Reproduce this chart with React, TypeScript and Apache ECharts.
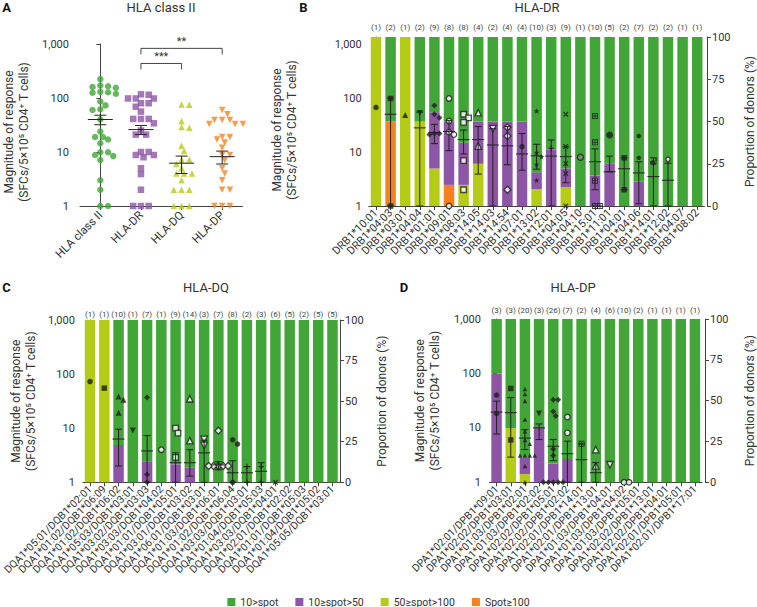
import React, { useEffect, useRef } from 'react';
import * as echarts from 'echarts';

const GREEN = '#41a637';
const PURPLE = '#8d55a6';
const LIME = '#b5cc16';
const ORANGE = '#f5821f';
const INK = '#333333';
const MARK = '#1e1e1e';
const FONT = 'Roboto, "Liberation Sans", sans-serif';

// ---------------- Panel A : HLA class II ----------------
const aCategories = ['HLA class II', 'HLA-DR', 'HLA-DQ', 'HLA-DP'];
const aClassII = [224, 170, 165, 160, 155, 130, 128, 125, 120, 86, 73, 62, 60, 40, 24, 19, 19, 17, 14.5, 9.9, 9.9, 8.8, 8.4, 7.1, 3, 2, 1, 1];
const aDR = [117, 115, 98, 98, 98, 80, 80, 69, 56, 41, 41, 41, 34, 25, 21, 21, 10, 10, 8.8, 8.8, 8, 5, 3.9, 2, 1, 1, 1];
const aDQ = [76, 75, 37, 29, 28, 13, 10.4, 7.3, 7.3, 6, 5, 4, 4, 4, 3, 2, 2, 2, 1, 1, 1];
const aDP = [60, 50, 39, 39, 39, 33, 33, 33, 19, 19, 17, 15, 12, 8.8, 8.8, 7, 5, 4, 3, 2, 2, 1, 1, 1];
const aMean = [40, 26, 6.2, 8.2];
const aSem = [8, 5, 2.2, 2.2];
const aSigFrom = [1, 1];
const aSigTo = [3, 2];
const aSigLevel = [830, 436];
const aSigLabel = ['**', '***'];

// ---------------- Panel B : HLA-DR ----------------
const drCats = ['DRB1*10:01', 'DRB1*04:03', 'DRB1*03:01', 'DRB1*04:04', 'DRB1*01:01', 'DRB1*09:01', 'DRB1*08:03', 'DRB1*14:05', 'DRB1*14:03', 'DRB1*14:54', 'DRB1*07:01', 'DRB1*13:02', 'DRB1*12:01', 'DRB1*04:05', 'DRB1*04:10', 'DRB1*15:01', 'DRB1*11:01', 'DRB1*04:01', 'DRB1*04:06', 'DRB1*14:01', 'DRB1*12:02', 'DRB1*04:07', 'DRB1*08:02'];
const drN = [1, 2, 1, 2, 9, 8, 8, 4, 2, 4, 4, 10, 3, 9, 1, 10, 5, 2, 7, 2, 2, 1, 1];
const drOrange = [0, 50, 0, 0, 0, 12.5, 0, 0, 0, 0, 0, 0, 0, 0, 0, 0, 0, 0, 0, 0, 0, 0, 0];
const drLime = [100, 0, 100, 50, 22.2, 0, 12.5, 25, 0, 0, 0, 10, 0, 11.1, 0, 0, 0, 0, 0, 0, 0, 0, 0];
const drPurple = [0, 0, 0, 0, 33.3, 37.5, 25, 25, 50, 50, 50, 10, 33.3, 11.1, 0, 18, 25, 0, 14.3, 0, 0, 0, 0];
const drGreen = [0, 50, 0, 50, 44.5, 50, 62.5, 50, 50, 50, 50, 80, 66.7, 77.8, 100, 82, 75, 100, 85.7, 100, 100, 100, 100];
const drPoints = [
  [67], [98, 1], [48.5], [53], [73, 50, 43, 22, 22, 21], [98, 37.5, 23.3, 21, 1], [50, 43, 35.5, 6.9, 2],
  [53.5, 12.9], [27], [28.6, 19.8, 2], [12.6], [57.5, 9.8, 8.2, 5.9, 3], [11.7], [50, 12.7, 6.1, 4, 1],
  [8], [46.5, 15.1, 2.95, 1, 1], [20.6], [7.8, 2], [19.8, 7.8], [6.6], [6.2], [], [],
];
const drMarks = ['dot', 'square', 'tri', 'invtri', 'diamond', 'ring', 'openSquare', 'openTri', 'openInvTri', 'openDiamond', 'dot', 'star', 'plus', 'cross', 'circleMinus', 'squarePlus', 'bigDot', 'square', 'smallDot', 'dShape', 'pin', 'dot', 'dot'];
const drMean = [null, 50, null, 28, 23, 24, 17, 17, 13.5, 13, 9.2, 8.5, 8.4, 8.2, null, 6.6, 4.3, 4.9, 4.1, 3.5, 3.0, null, null];
const drLo = [null, 1, null, 1, 14.3, 10.6, 9.2, 3.9, 1, 5.8, 4.6, 4.8, 1, 2.7, null, 2, 4.3, 2, 1.1, 1, 1, null, null];
const drHi = [null, 100, null, 55, 32.5, 38, 25.5, 29.5, 27, 29.5, 22, 13.9, 16.7, 12.5, null, 11.4, 8.4, 7.8, 6.6, 7.8, 6.2, null, null];

// ---------------- Panel C : HLA-DQ ----------------
const dqCats = ['DQA1*05:01/DQB1*02:01', 'DQA1*01:02/DQB1*06:09', 'DQA1*01:02/DQB1*06:02', 'DQA1*05:03/DQB1*03:01', 'DQA1*03:02/DQB1*03:03', 'DQA1*03:03/DQB1*04:02', 'DQA1*01:01/DQB1*05:01', 'DQA1*03:01/DQB1*03:02', 'DQA1*06:01/DQB1*03:01', 'DQA1*01:03/DQB1*06:01', 'DQA1*01:02/DQB1*06:04', 'DQA1*03:03/DQB1*03:01', 'DQA1*01:04/DQB1*05:03', 'DQA1*03:03/DQB1*04:01', 'DQA1*02:01/DQB1*02:02', 'DQA1*01:01/DQB1*05:03', 'DQA1*01:04/DQB1*05:02', 'DQA1*05:05/DQB1*03:01'];
const dqN = [1, 1, 10, 1, 7, 1, 9, 14, 3, 7, 8, 2, 3, 6, 5, 2, 5, 5];
const dqOrange = [0, 0, 0, 0, 0, 0, 0, 0, 0, 0, 0, 0, 0, 0, 0, 0, 0, 0];
const dqLime = [100, 100, 0, 0, 0, 0, 0, 0, 0, 0, 0, 0, 0, 0, 0, 0, 0, 0];
const dqPurple = [0, 0, 23, 0, 13, 0, 11.1, 9, 0, 0, 0, 0, 0, 0, 0, 0, 0, 0];
const dqGreen = [0, 0, 77, 100, 87, 100, 88.9, 91, 100, 100, 100, 100, 100, 100, 100, 100, 100, 100];
const dqPoints = [[73], [55], [38.5, 33.5, 19.3], [9.1], [37, 1.4, 1], [4], [10, 8.1, 2.9], [35, 5.9], [6.2, 4.8], [9, 2, 2, 2, 2, 2], [6.1, 5.1, 1], [1.95, 1], [1.95, 1], [1], [], [], [], []];
const dqMarks = ['dot', 'square', 'tri', 'invtri', 'diamond', 'ring', 'openSquare', 'openTri', 'openInvTri', 'openDiamond', 'dot', 'plus', 'plus', 'cross', 'dot', 'dot', 'dot', 'dot'];
const dqMean = [null, null, 6.3, null, 3.8, null, 2.3, 2.3, 3.5, 2.1, 1.5, 1.5, 1.6, null, null, null, null, null];
const dqLo = [null, null, 2, null, 1, null, 1, 1.3, 1, 1.7, 1, 1, 1, null, null, null, null, null];
const dqHi = [null, null, 9.6, null, 7.3, null, 3.5, 4, 6, 2.4, 2.5, 1.95, 2.3, null, null, null, null, null];

// ---------------- Panel D : HLA-DP ----------------
const dpCats = ['DPA1*02:01/DPB1*09:01', 'DPA1*02:02/DPB1*03:01', 'DPA1*01:03/DPB1*02:01', 'DPA1*01:03/DPB1*02:02', 'DPA1*02:02/DPB1*05:01', 'DPA1*02:02/DPB1*02:02', 'DPA1*02:01/DPB1*14:01', 'DPA1*02:01/DPB1*13:01', 'DPA1*01:03/DPB1*04:01', 'DPA1*01:03/DPB1*04:02', 'DPA1*01:03/DPB1*05:01', 'DPA1*02:02/DPB1*13:01', 'DPA1*02:02/DPB1*04:01', 'DPA1*02:01/DPB1*05:01', 'DPA1*02:01/DPB1*17:01'];
const dpN = [3, 3, 20, 3, 26, 7, 2, 4, 6, 10, 2, 1, 1, 1, 1];
const dpOrange = [0, 0, 0, 0, 0, 0, 0, 0, 0, 0, 0, 0, 0, 0, 0];
const dpLime = [0, 33.3, 5, 0, 0, 0, 0, 0, 0, 0, 0, 0, 0, 0, 0];
const dpPurple = [66.7, 0, 10, 33.3, 11.5, 14.3, 0, 0, 0, 0, 0, 0, 0, 0, 0];
const dpGreen = [33.3, 66.7, 85, 66.7, 88.5, 85.7, 100, 100, 100, 100, 100, 100, 100, 100, 100];
const dpPoints = [[40, 18.4], [53, 6], [52, 42, 31, 14.3, 8.7, 6, 5.1, 3.1, 3.1, 3.1, 3.1, 2, 1], [18.4], [33, 33, 20, 16.5, 4.1, 3.1, 1, 1, 1, 1, 1], [15.8, 8.1], [5.1], [4, 2], [2.1], [1, 1], [], [], [], [], []];
const dpMarks = ['dot', 'square', 'smallTri', 'invtri', 'diamond', 'ring', 'squarePlus', 'openTri', 'openInvTri', 'ring', 'dot', 'dot', 'dot', 'dot', 'dot'];
const dpMean = [19.5, 19, 6.5, 10, 4.6, 3.35, 2.6, 1.5, null, null, null, null, null, null, null];
const dpLo = [7.7, 2.9, 4, 6.1, 2.5, 1, 1, 1, null, null, null, null, null, null, null];
const dpHi = [31, 36, 9.3, 11.8, 6.1, 5.7, 5.1, 2.3, null, null, null, null, null, null, null];

const legendNames = ['10>spot', '10≥spot>50', '50≥spot>100', 'Spot≥100'];

// ---------------- helpers ----------------
const lg = (v: number) => Math.log10(v);
const fmtLog = (v: number) => {
  const r = Math.round(v * 1000) / 1000;
  if (!Number.isInteger(r)) return '';
  return Math.round(Math.pow(10, r)).toLocaleString('en-US');
};

const INV = 'path://M0,0L10,0L5,9Z';
const STAR = 'path://M5,0L6.2,3.6L10,3.6L6.9,5.8L8.1,9.5L5,7.2L1.9,9.5L3.1,5.8L0,3.6L3.8,3.6Z';
const PLUS = 'path://M3.8,0H6.2V3.8H10V6.2H6.2V10H3.8V6.2H0V3.8H3.8Z';
const CROSS = 'path://M1.7,0L5,3.3L8.3,0L10,1.7L6.7,5L10,8.3L8.3,10L5,6.7L1.7,10L0,8.3L3.3,5L0,1.7Z';
const SQPLUS = 'path://M0,0H10V10H0Z M1.6,1.6V4.3H4.3V1.6Z M5.7,1.6V4.3H8.4V1.6Z M1.6,5.7V8.4H4.3V5.7Z M5.7,5.7V8.4H8.4V5.7Z';
const DSHAPE = 'path://M0.5,6.5A3.5,3.5 0 1 0 7.5,6.5A3.5,3.5 0 1 0 0.5,6.5Z M6,0H7.6V6.5H6Z';

const SYM: Record<string, { symbol: string; fill: 'solid' | 'open' | 'gray'; size: number }> = {
  dot: { symbol: 'circle', fill: 'solid', size: 5.5 },
  bigDot: { symbol: 'circle', fill: 'solid', size: 7 },
  smallDot: { symbol: 'circle', fill: 'solid', size: 4.5 },
  square: { symbol: 'rect', fill: 'solid', size: 5.5 },
  tri: { symbol: 'triangle', fill: 'solid', size: 6 },
  smallTri: { symbol: 'triangle', fill: 'solid', size: 4.5 },
  invtri: { symbol: INV, fill: 'solid', size: 6 },
  diamond: { symbol: 'diamond', fill: 'solid', size: 6 },
  ring: { symbol: 'circle', fill: 'open', size: 5.5 },
  openSquare: { symbol: 'rect', fill: 'open', size: 5.5 },
  openTri: { symbol: 'triangle', fill: 'open', size: 6.5 },
  openInvTri: { symbol: INV, fill: 'open', size: 6.5 },
  openDiamond: { symbol: 'diamond', fill: 'open', size: 7 },
  star: { symbol: STAR, fill: 'solid', size: 6 },
  plus: { symbol: PLUS, fill: 'solid', size: 5.5 },
  cross: { symbol: CROSS, fill: 'solid', size: 5.5 },
  circleMinus: { symbol: 'circle', fill: 'gray', size: 6 },
  squarePlus: { symbol: SQPLUS, fill: 'solid', size: 6 },
  dShape: { symbol: DSHAPE, fill: 'solid', size: 7 },
  pin: { symbol: 'pin', fill: 'open', size: 7 },
};

function markStyle(kind: 'solid' | 'open' | 'gray') {
  if (kind === 'open') return { color: '#ffffff', borderColor: MARK, borderWidth: 1.3 };
  if (kind === 'gray') return { color: '#8a8a8a', borderColor: MARK, borderWidth: 1.3 };
  return { color: MARK };
}

function swarm(vals: number[], pxPerDecade: number, minDist: number, step: number): number[] {
  const idx = vals.map((_, i) => i).sort((a, b) => vals[b] - vals[a]);
  const placed: [number, number][] = [];
  const out: number[] = new Array(vals.length).fill(0);
  for (const i of idx) {
    const y = lg(vals[i]) * pxPerDecade;
    for (let k = 0; k < 80; k++) {
      const m = Math.ceil(k / 2) * (k % 2 === 1 ? 1 : -1);
      const x = m * step;
      if (placed.every(([px, py]) => Math.hypot(px - x, py - y) >= minDist)) {
        out[i] = x;
        placed.push([x, y]);
        break;
      }
    }
  }
  return out;
}

const axisLineStyle = { show: true, lineStyle: { color: '#444', width: 1 } };
const axisTickStyle = { show: true, length: 4, lineStyle: { color: '#444', width: 1 } };
const Y_NAME = 'Magnitude of response\n(SFCs/5×10⁵ CD4⁺ T cells)';

function errorSeries(xi: number, yi: number, mean: (number | null)[], lo: (number | null)[], hi: (number | null)[], meanHalf: number, capHalf: number) {
  const data: number[][] = [];
  mean.forEach((m, i) => {
    if (m == null) return;
    data.push([i, lg(m), lg(Math.max(lo[i] as number, 1)), lg(hi[i] as number)]);
  });
  return {
    type: 'custom',
    xAxisIndex: xi,
    yAxisIndex: yi,
    silent: true,
    z: 6,
    clip: false,
    encode: { x: 0, y: 1 },
    data,
    renderItem: (_p: any, api: any) => {
      const x = api.value(0);
      const pm = api.coord([x, api.value(1)]);
      const pl = api.coord([x, api.value(2)]);
      const ph = api.coord([x, api.value(3)]);
      const st = { stroke: '#222', lineWidth: 1 };
      return {
        type: 'group',
        children: [
          { type: 'line', shape: { x1: pm[0] - meanHalf, y1: pm[1], x2: pm[0] + meanHalf, y2: pm[1] }, style: st },
          { type: 'line', shape: { x1: pm[0], y1: ph[1], x2: pm[0], y2: pl[1] }, style: st },
          { type: 'line', shape: { x1: pm[0] - capHalf, y1: ph[1], x2: pm[0] + capHalf, y2: ph[1] }, style: st },
          { type: 'line', shape: { x1: pm[0] - capHalf, y1: pl[1], x2: pm[0] + capHalf, y2: pl[1] }, style: st },
        ],
      };
    },
  };
}

function buildOption() {
  const grid: any[] = [];
  const xAxis: any[] = [];
  const yAxis: any[] = [];
  const series: any[] = [];

  // ---- Panel A ----
  const gA = { left: 79.5, top: 44, width: 163, height: 162 };
  grid.push(gA);
  xAxis.push({
    gridIndex: 0, type: 'category', data: aCategories,
    axisLine: axisLineStyle, axisTick: { ...axisTickStyle, alignWithLabel: true },
    axisLabel: { rotate: 45, fontSize: 11.5, color: INK, margin: 7, interval: 0, fontFamily: FONT },
  });
  xAxis.push({ gridIndex: 0, type: 'value', min: -0.5, max: 3.5, show: false });
  yAxis.push({
    gridIndex: 0, type: 'value', min: 0, max: 3, interval: 1, offset: 6,
    axisLine: axisLineStyle, axisTick: axisTickStyle, splitLine: { show: false },
    axisLabel: { formatter: fmtLog, fontSize: 11, color: INK, margin: 5, fontFamily: FONT },
    name: Y_NAME, nameLocation: 'middle', nameRotate: 90, nameGap: 43,
    nameTextStyle: { fontSize: 12, lineHeight: 15, color: INK, fontFamily: FONT, padding: [0, 14, 0, 0] },
  });
  const aGroups = [aClassII, aDR, aDQ, aDP];
  const aColors = [GREEN, PURPLE, LIME, ORANGE];
  const aSymbols = ['circle', 'rect', 'triangle', INV];
  const bwA = gA.width / 4;
  const aData: any[] = [];
  aGroups.forEach((vals, c) => {
    const offs = swarm(vals, gA.height / 3, 5.6, 2.6);
    vals.forEach((v, j) => {
      aData.push({ value: [c + offs[j] / bwA, lg(v)], symbol: aSymbols[c], symbolSize: 6.5, itemStyle: { color: aColors[c] } });
    });
  });
  series.push({ type: 'scatter', xAxisIndex: 1, yAxisIndex: 0, data: aData, z: 4, clip: false, silent: true });
  series.push(errorSeries(1, 0, aMean, aMean.map((m, i) => m - aSem[i]), aMean.map((m, i) => m + aSem[i]), 12.5, 6));
  series.push({
    type: 'custom', xAxisIndex: 1, yAxisIndex: 0, silent: true, clip: false, z: 6,
    encode: { x: 0, y: 2 },
    data: aSigFrom.map((f, i) => [f, aSigTo[i], lg(aSigLevel[i])]),
    renderItem: (p: any, api: any) => {
      const a = api.coord([api.value(0), api.value(2)]);
      const b = api.coord([api.value(1), api.value(2)]);
      const st = { stroke: '#444', lineWidth: 1, fill: 'none' };
      return {
        type: 'group',
        children: [
          { type: 'polyline', shape: { points: [[a[0], a[1] + 6], [a[0], a[1]], [b[0], a[1]], [b[0], a[1] + 6]] }, style: st },
          { type: 'text', style: { text: aSigLabel[p.dataIndex], x: (a[0] + b[0]) / 2, y: a[1] - 1, align: 'center', verticalAlign: 'bottom', fontSize: 11, fill: INK, fontFamily: FONT } },
        ],
      };
    },
  });

  // ---- Panels B, C, D ----
  const panels = [
    {
      g: { left: 368.7, top: 37, width: 336.6, height: 169 }, cats: drCats, counts: drN,
      stacks: [drOrange, drLime, drPurple, drGreen], points: drPoints, marks: drMarks,
      mean: drMean, lo: drLo, hi: drHi, yMax: 3.13, lOff: 2, rOff: 2.5, lGap: 67, rGap: 37,
      cMargin: 6, catFont: 11, namePad: 17,
    },
    {
      g: { left: 76, top: 320, width: 263.6, height: 162.3 }, cats: dqCats, counts: dqN,
      stacks: [dqOrange, dqLime, dqPurple, dqGreen], points: dqPoints, marks: dqMarks,
      mean: dqMean, lo: dqLo, hi: dqHi, yMax: 3, lOff: 3, rOff: 0.5, lGap: 41, rGap: 36,
      cMargin: 2, catFont: 10.5, namePad: 0,
    },
    {
      g: { left: 489.5, top: 319, width: 216, height: 163.3 }, cats: dpCats, counts: dpN,
      stacks: [dpOrange, dpLime, dpPurple, dpGreen], points: dpPoints, marks: dpMarks,
      mean: dpMean, lo: dpLo, hi: dpHi, yMax: 3, lOff: 3.5, rOff: 3, lGap: 44, rGap: 39,
      cMargin: 5, catFont: 10.5, namePad: 0,
    },
  ];
  const stackColors = [ORANGE, LIME, PURPLE, GREEN];
  const stackNames = ['Spot≥100', '50≥spot>100', '10≥spot>50', '10>spot'];

  panels.forEach((P, pi) => {
    const gi = grid.length;
    grid.push(P.g);
    const xCat = xAxis.length;
    xAxis.push({
      gridIndex: gi, type: 'category', data: P.cats,
      axisLine: axisLineStyle, axisTick: { ...axisTickStyle, alignWithLabel: true },
      axisLabel: { rotate: 45, fontSize: P.catFont, color: INK, margin: 5, interval: 0, fontFamily: FONT },
    });
    xAxis.push({
      gridIndex: gi, type: 'category', position: 'top', data: P.counts.map((n) => `(${n})`),
      axisLine: { show: false }, axisTick: { show: false },
      axisLabel: { fontSize: 8, color: '#444', margin: P.cMargin, interval: 0, fontFamily: FONT },
    });
    const xVal = xAxis.length;
    xAxis.push({ gridIndex: gi, type: 'value', min: -0.5, max: P.cats.length - 0.5, show: false });
    const yL = yAxis.length;
    yAxis.push({
      gridIndex: gi, type: 'value', min: 0, max: P.yMax, interval: 1, offset: P.lOff,
      axisLine: axisLineStyle,
      axisTick: { ...axisTickStyle, customValues: [0, 1, 2, 3] },
      splitLine: { show: false },
      axisLabel: { formatter: fmtLog, fontSize: 11, color: INK, margin: 5, fontFamily: FONT, customValues: [0, 1, 2, 3] },
      name: Y_NAME, nameLocation: 'middle', nameRotate: 90, nameGap: P.lGap,
      nameTextStyle: { fontSize: 12, lineHeight: 15, color: INK, fontFamily: FONT, padding: [0, P.namePad, 0, 0] },
    });
    const yR = yAxis.length;
    yAxis.push({
      gridIndex: gi, type: 'value', position: 'right', min: 0, max: 100, interval: 25, offset: P.rOff,
      axisLine: axisLineStyle, axisTick: axisTickStyle, splitLine: { show: false },
      axisLabel: { fontSize: 11, color: INK, margin: 5, fontFamily: FONT },
      name: 'Proportion of donors (%)', nameLocation: 'middle', nameRotate: 90, nameGap: P.rGap,
      nameTextStyle: { fontSize: 12, color: INK, fontFamily: FONT },
    });
    P.stacks.forEach((arr, si) => {
      series.push({
        type: 'bar', name: stackNames[si], xAxisIndex: xCat, yAxisIndex: yR, stack: 'p' + pi,
        barWidth: 10.5, data: arr, itemStyle: { color: stackColors[si] }, silent: true, z: 2,
      });
    });
    const bw = P.g.width / P.cats.length;
    const ppd = P.g.height / P.yMax;
    const pts: any[] = [];
    P.points.forEach((vals, c) => {
      const spec = SYM[P.marks[c]];
      const offs = swarm(vals, ppd, 5, 2.5);
      vals.forEach((v, j) => {
        pts.push({
          value: [c + offs[j] / bw, lg(v)], symbol: spec.symbol, symbolSize: spec.size,
          itemStyle: markStyle(spec.fill),
        });
      });
    });
    series.push({ type: 'scatter', xAxisIndex: xVal, yAxisIndex: yL, data: pts, z: 5, clip: false, silent: true });
    series.push(errorSeries(xVal, yL, P.mean, P.lo, P.hi, 6, 3.5));
  });

  const title = (text: string, x: number, y: number, bold = false) => ({
    type: 'text', x, y,
    style: { text, align: 'center', verticalAlign: 'middle', fontSize: 13, fill: bold ? '#111' : INK, fontWeight: bold ? 'bold' : 'normal', fontFamily: FONT },
  });

  return {
    animation: false,
    textStyle: { fontFamily: FONT },
    grid, xAxis, yAxis, series,
    legend: {
      data: legendNames, top: 591, left: 'center', icon: 'rect', itemWidth: 8, itemHeight: 8, itemGap: 17,
      textStyle: { fontSize: 10.5, lineHeight: 12, color: INK, fontFamily: FONT }, selectedMode: false,
    },
    graphic: [
      title('A', 6.5, 7, true),
      title('HLA class II', 161, 7),
      title('B', 303.5, 7, true),
      title('HLA-DR', 537, 7),
      title('C', 6.5, 287, true),
      title('HLA-DQ', 206, 287),
      title('D', 404, 287, true),
      title('HLA-DP', 573, 287),
    ],
  };
}

export default function App() {
  const ref = useRef<HTMLDivElement>(null);
  useEffect(() => {
    document.body.style.margin = '0';
    const chart = echarts.init(ref.current as HTMLDivElement, undefined, { renderer: 'svg' });
    chart.setOption(buildOption() as any);
    return () => chart.dispose();
  }, []);
  return <div ref={ref} style={{ width: 757, height: 607 }} />;
}
